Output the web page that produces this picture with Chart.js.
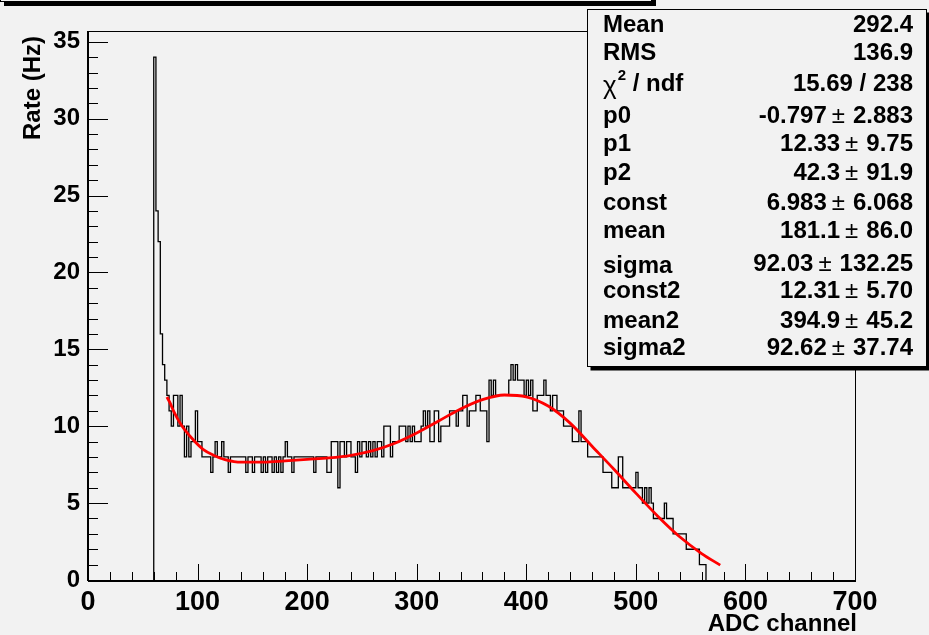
<!DOCTYPE html>
<html><head><meta charset="utf-8">
<script src="https://cdn.jsdelivr.net/npm/chart.js@4.4.1/dist/chart.umd.min.js"></script>
<style>html,body{margin:0;padding:0;background:#f2f2f2;overflow:hidden}canvas{display:block}</style>
</head><body>
<canvas id="c" width="929" height="635"></canvas>
<script>
// ---------------- data ----------------
const histLow = 60;      // low edge of first filled bin (ADC channel)
const binWidth = 2;      // channels per bin
const counts = [
 34,24,22,16,14,13,12,11,10,12,12,10,12,10, 8,10, 8, 9, 9,11,
  9, 9, 8, 8, 8, 8, 7, 8, 9, 8, 8, 9, 8, 8, 7, 8, 8, 8, 8, 8,
  8, 8, 7, 8, 8, 7, 8, 8, 8, 7, 8, 7, 8, 8, 7, 8, 7, 8, 7, 8,
  9, 8, 8, 7, 8, 8, 8, 8, 8, 8, 8, 8, 8, 7, 8, 8, 8, 8, 8, 7,
  7, 9, 9, 9, 6, 9, 9, 8, 9, 9, 8, 8, 7, 9, 8, 9, 9, 8, 9, 8,
  9, 8, 9, 9, 8,10,10,10, 8, 9, 9, 9,10,10,10, 9,10, 9,10, 9,
  9, 9,10,11,10,11, 9, 9,11,11, 9,10,10,10,10,11,11,11,10,11,
 11,12,12,10,11,11,11,12,12,11,11,11, 9,13,12,13,12,12,12,12,
 12,12,13,14,13,14,13,13,13,12,13,12,13,11,11,12,12,12,13,12,
 12,11,12,12,11,11,11,10,10,10,10, 9, 9, 9,11, 9, 9, 9, 8, 8,
  8, 8, 8, 8, 8, 7, 7, 7, 7, 6, 6, 6, 8, 8, 6, 6, 6, 6, 6, 6,
  7, 6, 6, 5, 6, 5, 6, 5, 4, 4, 4, 4, 4, 5, 4, 4, 4, 3, 3, 3,
  3, 3, 3, 2, 2, 2, 2, 2, 2, 1, 1, 1
];
const fitX = [72, 75, 78, 85, 95, 105, 115, 125, 140, 160, 180, 200, 220, 240, 260, 280,
              300, 320, 340, 360, 380, 400, 420, 440, 460, 480, 500, 520, 540, 560, 577];
const fitY = [11.9, 11.5, 11.0, 10.1, 9.2, 8.5, 8.1, 7.83, 7.66, 7.66, 7.74, 7.84, 7.94, 8.11, 8.41, 8.89,
              9.56, 10.34, 11.12, 11.73, 12.03, 11.91, 11.31, 10.2, 8.7, 7.2, 5.65, 4.15, 2.81, 1.72, 0.97];
const xTickValues = [0, 100, 200, 300, 400, 500, 600, 700];
const yTickValues = [0, 5, 10, 15, 20, 25, 30, 35];
const xRange = [0, 700];
const yRange = [0, 35.7];
const xTitle = 'ADC channel';
const yTitle = 'Rate (Hz)';
const statLabels = ['Mean', 'RMS', 'CHI2', 'p0', 'p1', 'p2', 'const', 'mean', 'sigma', 'const2', 'mean2', 'sigma2'];
const statValues = ['292.4', '136.9', '15.69 / 238', '-0.797 \u00b1 2.883', '12.33 \u00b1 9.75', '42.3 \u00b1 91.9',
                    '6.983 \u00b1 6.068', '181.1 \u00b1 86.0', '92.03 \u00b1 132.25', '12.31 \u00b1 5.70',
                    '394.9 \u00b1 45.2', '92.62 \u00b1 37.74'];

// ---------------- build datasets ----------------
const histPoints = [{x: histLow, y: 0}];
counts.forEach((c, i) => histPoints.push({x: histLow + i * binWidth, y: c}));
const histHigh = histLow + counts.length * binWidth;
histPoints.push({x: histHigh, y: counts[counts.length - 1]});
histPoints.push({x: histHigh, y: 0});
const fitPoints = fitX.map((x, i) => ({x: x, y: fitY[i]}));

const FONT = "'Liberation Sans', Arial, Helvetica, sans-serif";
const BG = '#f2f2f2';

const rootPlugin = {
  id: 'rootStyle',
  beforeDraw(chart) {
    const ctx = chart.ctx;
    ctx.save();
    ctx.fillStyle = BG;
    ctx.fillRect(0, 0, chart.width, chart.height);
    ctx.restore();
  },
  afterDatasetsDraw(chart) {
    const ctx = chart.ctx;
    const a = chart.chartArea;
    const xs = chart.scales.x, ys = chart.scales.y;
    ctx.save();
    ctx.strokeStyle = '#000';
    // frame
    ctx.lineWidth = 1;
    ctx.strokeRect(Math.round(a.left) + 0.5, Math.round(a.top) + 0.5, Math.round(a.right - a.left), Math.round(a.bottom - a.top));
    // axis lines
    ctx.lineWidth = 2;
    ctx.beginPath();
    ctx.moveTo(a.left, a.bottom + 1); ctx.lineTo(a.right + 1, a.bottom + 1);
    ctx.moveTo(a.left, a.top); ctx.lineTo(a.left, a.bottom + 1);
    ctx.stroke();
    // x ticks (inside)
    ctx.lineWidth = 1;
    ctx.beginPath();
    for (let v = xRange[0]; v <= xRange[1] + 1e-6; v += 20) {
      const px = Math.round(xs.getPixelForValue(v)) + 0.5;
      const len = (v % 100 === 0) ? 16 : 8;
      ctx.moveTo(px, a.bottom); ctx.lineTo(px, a.bottom - len);
    }
    // y ticks (inside)
    for (let v = 0; v <= yRange[1] + 1e-6; v += 1) {
      const py = Math.round(ys.getPixelForValue(v)) + 0.5;
      const len = (v % 5 === 0) ? 20 : 10;
      ctx.moveTo(a.left, py); ctx.lineTo(a.left + len, py);
    }
    ctx.stroke();
    // axis titles
    ctx.fillStyle = '#000';
    ctx.font = 'bold 24px ' + FONT;
    ctx.textAlign = 'right';
    ctx.textBaseline = 'alphabetic';
    ctx.fillText(xTitle, a.right + 2, 631);
    ctx.save();
    ctx.translate(40, 36);
    ctx.rotate(-Math.PI / 2);
    ctx.font = 'bold 24px ' + FONT;
    ctx.textAlign = 'right';
    ctx.fillText(yTitle, 0, 0);
    ctx.restore();
    ctx.restore();
  },
  afterDraw(chart) {
    const ctx = chart.ctx;
    ctx.save();
    // title pave (mostly off-canvas)
    ctx.fillStyle = '#000';
    ctx.fillRect(4, 2, 652, 4);
    ctx.fillRect(652, -10, 4, 16);
    ctx.fillStyle = BG;
    ctx.fillRect(0, -30, 652, 32);
    ctx.strokeStyle = '#000';
    ctx.lineWidth = 1;
    ctx.strokeRect(0.5, -30, 651, 31.5);

    // stats box
    const bx = 587.5, by = 9.5, bw = 339, bh = 357;
    ctx.fillStyle = '#000';
    ctx.fillRect(bx + 3, by + bh, bw, 4);
    ctx.fillRect(bx + bw, by + 3, 4, bh);
    ctx.fillStyle = BG;
    ctx.fillRect(bx, by, bw, bh);
    ctx.strokeRect(bx, by, bw, bh);

    const baselines = [32, 60, 91, 123, 151, 180, 210, 238, 271, 298, 328, 355];
    const lx = 603, rx = 913;
    ctx.fillStyle = '#000';
    ctx.textBaseline = 'alphabetic';
    const bold = 'bold 24px ' + FONT;
    statLabels.forEach((lab, i) => {
      const yb = baselines[i] + (lab === 'sigma' ? 2 : 0);
      ctx.textAlign = 'left';
      if (lab === 'CHI2') {
        ctx.font = '26px ' + FONT;
        ctx.fillText('\u03c7', lx, yb + 3);
        let w = ctx.measureText('\u03c7').width;
        ctx.font = 'bold 15px ' + FONT;
        ctx.fillText('2', lx + w + 1, yb - 11);
        w += ctx.measureText('2').width + 1;
        ctx.font = bold;
        ctx.fillText(' / ndf', lx + w, yb);
      } else {
        ctx.font = bold;
        ctx.fillText(lab, lx, yb);
      }
      // value, right aligned; +- sign in regular weight
      const val = statValues[i];
      ctx.textAlign = 'left';
      if (val.indexOf('\u00b1') >= 0) {
        const parts = val.split('\u00b1');
        const left = parts[0].trim(), right = parts[1].trim();
        ctx.font = bold;
        const wr = ctx.measureText(right).width;
        const wl = ctx.measureText(left).width;
        ctx.font = '24px ' + FONT;
        const wp = ctx.measureText('\u00b1').width;
        let x = rx - wr;
        ctx.font = bold; ctx.fillText(right, x, baselines[i]);
        x -= 8 + wp;
        ctx.font = '24px ' + FONT; ctx.fillText('\u00b1', x, baselines[i]);
        x -= 5 + wl;
        ctx.font = bold; ctx.fillText(left, x, baselines[i]);
      } else {
        ctx.font = bold;
        ctx.textAlign = 'right';
        ctx.fillText(val, rx, baselines[i]);
      }
    });
    ctx.restore();
  }
};

new Chart(document.getElementById('c'), {
  type: 'line',
  data: {
    datasets: [
      {
        label: 'histogram',
        data: histPoints,
        stepped: 'before',
        borderColor: '#000000',
        borderWidth: 1.3,
        pointRadius: 0,
        fill: false,
        order: 2
      },
      {
        label: 'fit',
        data: fitPoints,
        borderColor: '#ff0000',
        borderWidth: 2.8,
        pointRadius: 0,
        cubicInterpolationMode: 'monotone',
        fill: false,
        order: 1
      }
    ]
  },
  options: {
    responsive: false,
    animation: false,
    devicePixelRatio: 1,
    layout: {padding: {left: 0, right: 74, top: 31, bottom: 0}},
    plugins: {legend: {display: false}, tooltip: {enabled: false}, title: {display: false}},
    scales: {
      x: {
        type: 'linear', min: xRange[0], max: xRange[1],
        grid: {display: false, drawTicks: false}, border: {display: false},
        ticks: {autoSkip: false, maxRotation: 0, color: '#000', padding: 6,
                font: {family: FONT, weight: 'bold', size: 27}},
        afterBuildTicks: s => { s.ticks = xTickValues.map(v => ({value: v})); },
        afterFit: s => { s.height = 55; }
      },
      y: {
        type: 'linear', min: yRange[0], max: yRange[1],
        grid: {display: false, drawTicks: false}, border: {display: false},
        ticks: {autoSkip: false, color: '#000', padding: 8,
                font: {family: FONT, weight: 'bold', size: 24}},
        afterBuildTicks: s => { s.ticks = yTickValues.map(v => ({value: v})); },
        afterFit: s => { s.width = 88; }
      }
    }
  },
  plugins: [rootPlugin]
});
</script>
</body></html>
